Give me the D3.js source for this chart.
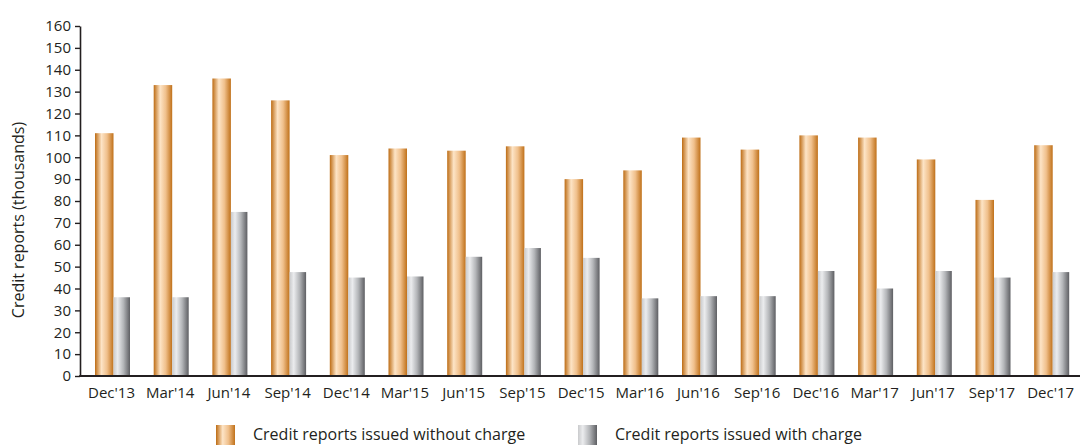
<!DOCTYPE html>
<html>
<head>
<meta charset="utf-8">
<script src="https://cdn.jsdelivr.net/npm/d3@7"></script>
<style>
  body { margin: 0; background: #fff; }
  text { font-family: "Open Sans", "Noto Sans", sans-serif; fill: #231f20; }
</style>
</head>
<body>
<div class="chart-cont"></div>
<script>
var quarters = ["Dec'13", "Mar'14", "Jun'14", "Sep'14", "Dec'14", "Mar'15", "Jun'15", "Sep'15",
    "Dec'15", "Mar'16", "Jun'16", "Sep'16", "Dec'16", "Mar'17", "Jun'17", "Sep'17", "Dec'17"];
var withoutCharge = [111, 133, 136, 126, 101, 104, 103, 105, 90, 94, 109, 103.5, 110, 109, 99, 80.5, 105.5];
var withCharge = [36, 36, 75, 47.5, 45, 45.5, 54.5, 58.5, 54, 35.5, 36.5, 36.5, 48, 40, 48, 45, 47.5];
var yTicks = d3.range(0, 161, 10);
var seriesNames = ["Credit reports issued without charge", "Credit reports issued with charge"];

var w = 1080, h = 445;
var x0 = 80, yBase = 376, yTop = 26;

var svg = d3.select(".chart-cont").append("svg")
    .attr("width", w)
    .attr("height", h);

var defs = svg.append("defs");
var orange = defs.append("linearGradient").attr("id", "gOrange");
orange.append("stop").attr("offset", "0%").attr("stop-color", "#bd6c14");
orange.append("stop").attr("offset", "35%").attr("stop-color", "#fde4c6");
orange.append("stop").attr("offset", "65%").attr("stop-color", "#f0c08c");
orange.append("stop").attr("offset", "100%").attr("stop-color", "#c0711a");
var grey = defs.append("linearGradient").attr("id", "gGrey");
grey.append("stop").attr("offset", "0%").attr("stop-color", "#c9cacc");
grey.append("stop").attr("offset", "25%").attr("stop-color", "#ebecee");
grey.append("stop").attr("offset", "60%").attr("stop-color", "#b4b6b9");
grey.append("stop").attr("offset", "100%").attr("stop-color", "#5e5f63");

var y = d3.scaleLinear().domain([0, 160]).range([yBase, yTop]);
// evenly stepped slots; orange bar sits at slot start
var xs = d3.scaleBand().domain(quarters).range([95, 95 + 58.7 * quarters.length]).paddingInner(0).paddingOuter(0);
var orangeW = 18.5, greyW = 16.5;

var g = svg.append("g");

g.selectAll("rect.without")
    .data(withoutCharge)
    .enter().append("rect")
    .attr("class", "without")
    .attr("x", function(d, i) { return xs(quarters[i]); })
    .attr("y", function(d) { return y(d); })
    .attr("width", orangeW)
    .attr("height", function(d) { return yBase - y(d); })
    .attr("fill", "url(#gOrange)");

g.selectAll("rect.with")
    .data(withCharge)
    .enter().append("rect")
    .attr("class", "with")
    .attr("x", function(d, i) { return xs(quarters[i]) + orangeW; })
    .attr("y", function(d) { return y(d); })
    .attr("width", greyW)
    .attr("height", function(d) { return yBase - y(d); })
    .attr("fill", "url(#gGrey)");

// y axis
var yAxis = svg.append("g")
    .attr("transform", "translate(" + x0 + ",0)")
    .call(d3.axisLeft(y).tickValues(yTicks).tickSize(5).tickSizeOuter(0).tickPadding(4));
yAxis.select(".domain").attr("stroke", "#231f20").attr("stroke-width", 1.6);
yAxis.selectAll(".tick line").attr("stroke", "#231f20").attr("stroke-width", 1.4);
yAxis.selectAll("text").style("font-size", "15px").attr("fill", "#231f20");

// x axis line + labels
svg.append("line")
    .attr("x1", x0 - 0.8).attr("x2", w)
    .attr("y1", yBase).attr("y2", yBase)
    .attr("stroke", "#231f20").attr("stroke-width", 1.8);

svg.selectAll("text.xlab")
    .data(quarters)
    .enter().append("text")
    .attr("class", "xlab")
    .attr("x", function(d) { return xs(d) + (orangeW + greyW) / 2 - 1; })
    .attr("y", 398)
    .attr("text-anchor", "middle")
    .style("font-size", "15px")
    .text(function(d) { return d; });

svg.append("text")
    .attr("transform", "translate(24,220)rotate(-90)")
    .attr("text-anchor", "middle")
    .style("font-size", "16px")
    .text("Credit reports (thousands)");

// legend
var legend = svg.append("g");
var legX = [216, 578];
var legFill = ["url(#gOrange)", "url(#gGrey)"];
seriesNames.forEach(function(name, i) {
    legend.append("rect")
        .attr("x", legX[i]).attr("y", 425)
        .attr("width", 19).attr("height", 22)
        .attr("fill", legFill[i]);
    legend.append("text")
        .attr("x", legX[i] + 37).attr("y", 440)
        .style("font-size", "16px")
        .text(name);
});
</script>
</body>
</html>
